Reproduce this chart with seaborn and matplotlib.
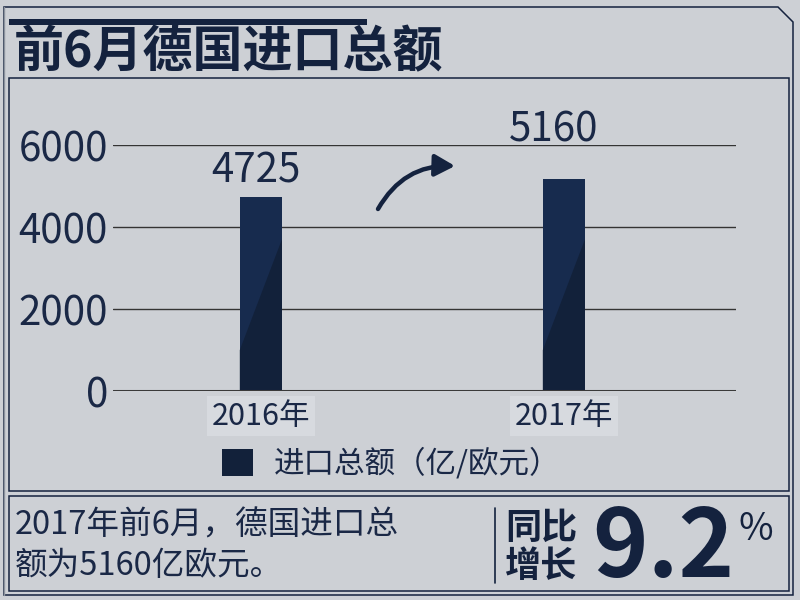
import matplotlib
matplotlib.use('Agg')
import matplotlib.pyplot as plt
import seaborn as sns
import pandas as pd
from matplotlib.patches import Polygon, Patch, Rectangle

# ---- data ----
years = ['2016年', '2017年']
imports = [4725, 5160]
series_name = '进口总额（亿/欧元）'
y_ticks = [0, 2000, 4000, 6000]
title = '前6月德国进口总额'
summary = ['2017年前6月，德国进口总', '额为5160亿欧元。']
growth_words = ['同比', '增长']
growth_pct = 9.2

# ---- style ----
BG = '#cdd0d5'
NAVY = '#14223e'
BAR_LIGHT = '#172b4e'
BAR_DARK = '#12213a'
TEXT = '#1a2846'
TICKBOX = '#d7dadf'

sns.set_theme(style='white')
plt.rcParams['font.family'] = ['Noto Sans CJK SC', 'DejaVu Sans']

fig = plt.figure(figsize=(8, 6), dpi=100)
fig.patch.set_facecolor(BG)

# pixel-space canvas for frames and free text
canvas = fig.add_axes([0, 0, 1, 1], zorder=0)
canvas.set_xlim(0, 800)
canvas.set_ylim(600, 0)
canvas.axis('off')

# outer frame with a clipped top-right corner
canvas.add_patch(Polygon([(4, 7), (778, 7), (793, 22), (793, 595), (4, 595)],
                         closed=True, fill=False, edgecolor=NAVY, lw=1.1))
canvas.plot([4, 4], [7, 595], color='#8c939e', lw=1.0)
# title bar
canvas.add_patch(Rectangle((9, 19), 358, 6, facecolor=NAVY, edgecolor='none'))
# chart box and summary box
canvas.add_patch(Rectangle((9, 78), 780, 413, fill=False, edgecolor=NAVY, lw=1.1))
canvas.add_patch(Rectangle((9, 496), 780, 95, fill=False, edgecolor=NAVY, lw=1.1))

canvas.text(14, 53, title, fontsize=36, fontweight='bold', color=NAVY,
            ha='left', va='center')

# summary panel
canvas.text(15, 526, summary[0], fontsize=23.5, color=TEXT, ha='left', va='center')
canvas.text(15, 566, summary[1], fontsize=23.5, color=TEXT, ha='left', va='center')
canvas.plot([495, 495], [508, 583], color=NAVY, lw=1.2)
canvas.text(505, 528, growth_words[0], fontsize=26, fontweight='bold', color=NAVY,
            ha='left', va='center')
canvas.text(505, 567, growth_words[1], fontsize=26, fontweight='bold', color=NAVY,
            ha='left', va='center')
canvas.text(592, 597, f'{growth_pct:.1f}', fontsize=68, fontweight='bold', color=NAVY,
            ha='left', va='bottom')
canvas.text(738, 540, '%', fontsize=27, color=NAVY, ha='left', va='baseline')

# curved arrow between the bars
canvas.annotate('', xy=(455, 166), xytext=(378, 209),
                arrowprops=dict(arrowstyle='-|>,head_length=0.55,head_width=0.3',
                                connectionstyle='arc3,rad=-0.3', color=NAVY,
                                lw=3.2, mutation_scale=22, shrinkA=0, shrinkB=0))

# ---- bar chart ----
ax = fig.add_axes([113 / 800, 1 - 391 / 600, (736 - 113) / 800, (391 - 145) / 600], zorder=2)
ax.set_facecolor('none')

df = pd.DataFrame({'year': years, 'value': imports})
sns.barplot(data=df, x='year', y='value', color=BAR_LIGHT, saturation=1,
            width=0.139, linewidth=0, edgecolor='none', ax=ax, zorder=3)

# darker diagonal shading on the lower part of each bar
for p in list(ax.patches):
    x0, w, h = p.get_x(), p.get_width(), p.get_height()
    ax.add_patch(Polygon([(x0, 0), (x0 + w, 0), (x0 + w, min(3700, h)), (x0, 1000)],
                         closed=True, facecolor=BAR_DARK, edgecolor='none', zorder=3.5))

# value labels
label_offsets = [(-3.6, 10.8), (-7.2, 27.0)]
for i, (v, off) in enumerate(zip(imports, label_offsets)):
    ax.annotate(f'{v}', xy=(i, v), xytext=off, textcoords='offset points',
                ha='center', va='baseline', fontsize=29, color=TEXT,
                annotation_clip=False)

ax.set_ylim(0, 6000)
ax.set_xlim(-0.488, 1.568)
ax.set_yticks(y_ticks)
ax.set_xlabel('')
ax.set_ylabel('')
for s in ax.spines.values():
    s.set_visible(False)
ax.set_axisbelow(True)
ax.yaxis.grid(True, color='#343434', lw=1.0)
ax.xaxis.grid(False)
ax.axhline(0, color='#3a3a3a', lw=2.2, zorder=4)
ax.tick_params(axis='y', labelsize=29, labelcolor=TEXT, length=0, pad=3.6)
ax.tick_params(axis='x', labelsize=22, labelcolor=TEXT, length=0, pad=7)
for lbl in ax.get_xticklabels():
    lbl.set_bbox(dict(boxstyle='square,pad=0.15', facecolor=TICKBOX, edgecolor='none'))

ax.legend(handles=[Patch(facecolor=BAR_DARK, edgecolor='none')], labels=[series_name],
          loc='center left', bbox_to_anchor=(222 / 800, 1 - 464 / 600),
          bbox_transform=fig.transFigure, frameon=False, fontsize=22,
          labelcolor=TEXT, handlelength=1.0, handleheight=1.0, handletextpad=0.7,
          borderpad=0, borderaxespad=0)

fig.savefig('out.png', dpi=100, facecolor=BG)
